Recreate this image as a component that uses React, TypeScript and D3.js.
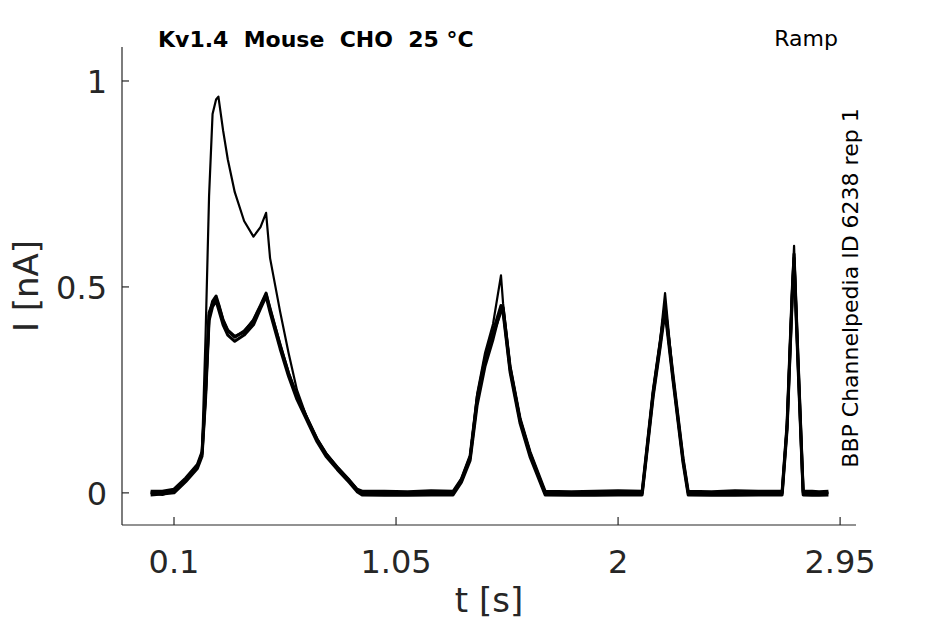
import React from 'react';
import * as d3 from 'd3';

// Time base (s) shared by all sweeps
const time = [0, 0.05, 0.1, 0.15, 0.2, 0.22, 0.235, 0.25, 0.265, 0.28, 0.29, 0.31, 0.33, 0.36, 0.4, 0.44, 0.47, 0.494, 0.511, 0.554, 0.59, 0.626, 0.67, 0.712, 0.75, 0.798, 0.85, 0.883, 0.905, 1.0, 1.1, 1.2, 1.294, 1.33, 1.367, 1.397, 1.431, 1.465, 1.499, 1.508, 1.538, 1.581, 1.623, 1.688, 1.8, 1.9, 2.0, 2.103, 2.15, 2.18, 2.201, 2.235, 2.278, 2.3, 2.4, 2.5, 2.6, 2.702, 2.723, 2.745, 2.753, 2.77, 2.792, 2.83, 2.86, 2.9];

// Current (nA) of each sweep
const sweep1 = [0.0, -0.005, 0.005, 0.03, 0.062, 0.1, 0.38, 0.72, 0.92, 0.955, 0.962, 0.88, 0.81, 0.73, 0.66, 0.622, 0.645, 0.68, 0.57, 0.44, 0.34, 0.25, 0.18, 0.13, 0.095, 0.062, 0.03, 0.008, 0.0, -0.004, 0.0, -0.003, 0.0, 0.035, 0.09, 0.24, 0.34, 0.41, 0.528, 0.46, 0.31, 0.18, 0.1, 0.0, -0.003, 0.0, -0.004, 0.0, 0.25, 0.37, 0.485, 0.28, 0.08, 0.0, -0.003, 0.0, -0.004, 0.0, 0.17, 0.5, 0.6, 0.32, 0.0, -0.003, 0.0, 0.0];
const sweep2 = [0.0, 0.0, 0.005, 0.032, 0.065, 0.095, 0.24, 0.43, 0.465, 0.478, 0.46, 0.42, 0.395, 0.38, 0.39, 0.42, 0.455, 0.485, 0.445, 0.36, 0.29, 0.235, 0.18, 0.13, 0.095, 0.062, 0.03, 0.008, 0.0, 0.0, -0.003, 0.0, 0.0, 0.03, 0.085, 0.225, 0.32, 0.385, 0.44, 0.445, 0.3, 0.175, 0.095, 0.0, 0.0, -0.003, 0.0, 0.0, 0.24, 0.36, 0.455, 0.28, 0.08, 0.0, 0.0, -0.003, 0.0, 0.0, 0.16, 0.48, 0.57, 0.32, 0.0, 0.0, -0.003, 0.0];
const sweep3 = [-0.005, -0.003, 0.0, 0.027, 0.059, 0.089, 0.228, 0.418, 0.452, 0.466, 0.447, 0.408, 0.383, 0.368, 0.383, 0.408, 0.447, 0.477, 0.438, 0.35, 0.283, 0.227, 0.174, 0.124, 0.089, 0.057, 0.025, 0.003, -0.005, -0.006, -0.006, -0.005, -0.005, 0.026, 0.079, 0.213, 0.308, 0.373, 0.45, 0.438, 0.293, 0.168, 0.088, -0.005, -0.006, -0.006, -0.005, -0.005, 0.233, 0.353, 0.44, 0.273, 0.073, -0.005, -0.006, -0.006, -0.005, -0.005, 0.153, 0.47, 0.56, 0.308, -0.005, -0.006, -0.006, -0.005];
const sweep4 = [0.004, 0.004, 0.009, 0.036, 0.069, 0.1, 0.247, 0.437, 0.46, 0.468, 0.457, 0.418, 0.393, 0.378, 0.393, 0.418, 0.453, 0.482, 0.448, 0.358, 0.291, 0.235, 0.181, 0.131, 0.096, 0.063, 0.031, 0.009, 0.004, 0.004, 0.003, 0.005, 0.004, 0.034, 0.09, 0.232, 0.327, 0.392, 0.455, 0.45, 0.307, 0.18, 0.1, 0.004, 0.003, 0.004, 0.005, 0.004, 0.247, 0.367, 0.45, 0.287, 0.084, 0.004, 0.003, 0.005, 0.004, 0.004, 0.167, 0.49, 0.58, 0.327, 0.004, 0.004, 0.003, 0.004];

const sweeps = [sweep1, sweep2, sweep3, sweep4];

const xTicks = [0.1, 1.05, 2, 2.95];
const xTickLabels = ['0.1', '1.05', '2', '2.95'];
const yTicks = [0, 0.5, 1];
const yTickLabels = ['0', '0.5', '1'];
const xLim = [-0.1225, 3.018];
const yLim = [-0.078, 1.0825];

const FONT = '"DejaVu Sans", sans-serif';
const AX = '#262626';

export default function App() {
  const W = 945, H = 624;
  const left = 122, right = 856, top = 47, bottom = 525;
  const x = d3.scaleLinear().domain(xLim).range([left, right]);
  const y = d3.scaleLinear().domain(yLim).range([bottom, top]);
  const line = d3
    .line<number>()
    .x((_d, i) => x(time[i]))
    .y((d) => y(d));

  return (
    <svg width={W} height={H} style={{ position: 'absolute', left: 0, top: 0, background: '#fff' }}>
      <rect x={0} y={0} width={W} height={H} fill="#fff" />
      {/* traces */}
      <g fill="none" stroke="#000" strokeLinejoin="round">
        {sweeps.map((s, k) => (
          <path key={k} d={line(s) || ''} strokeWidth={k === 0 ? 2.2 : 3} />
        ))}
      </g>
      {/* axes */}
      <g stroke={AX} strokeWidth={1.2} fill="none">
        <line x1={left} y1={top} x2={left} y2={bottom} />
        <line x1={left} y1={bottom} x2={right} y2={bottom} />
        {xTicks.map((t) => (
          <line key={'xt' + t} x1={x(t)} x2={x(t)} y1={bottom} y2={bottom - 8} />
        ))}
        {yTicks.map((t) => (
          <line key={'yt' + t} x1={left} x2={left + 7} y1={y(t)} y2={y(t)} />
        ))}
      </g>
      <g fill={AX} fontFamily={FONT} fontSize={32}>
        {xTicks.map((t, i) => (
          <text key={'xl' + t} x={x(t)} y={573} textAnchor="middle">
            {xTickLabels[i]}
          </text>
        ))}
        {yTicks.map((t, i) => (
          <text key={'yl' + t} x={107} y={y(t) + 12} textAnchor="end">
            {yTickLabels[i]}
          </text>
        ))}
      </g>
      <text x={(left + right) / 2} y={612} textAnchor="middle" fontFamily={FONT} fontSize={34} fill={AX}>
        t [s]
      </text>
      <text
        transform={`translate(38, ${(top + bottom) / 2}) rotate(-90)`}
        textAnchor="middle"
        fontFamily={FONT}
        fontSize={34}
        fill={AX}
      >
        I [nA]
      </text>
      <text x={158} y={47} fontFamily={FONT} fontSize={22} fontWeight="bold" fill="#000" xmlSpace="preserve" style={{ whiteSpace: 'pre' }}>
        {'Kv1.4  Mouse  CHO  25 °C'}
      </text>
      <text x={838} y={46} textAnchor="end" fontFamily={FONT} fontSize={22} fill="#000">
        Ramp
      </text>
      <text
        transform={`translate(858, 288) rotate(-90)`}
        textAnchor="middle"
        fontFamily={FONT}
        fontSize={22}
        fill="#000"
      >
        BBP Channelpedia ID 6238 rep 1
      </text>
    </svg>
  );
}
